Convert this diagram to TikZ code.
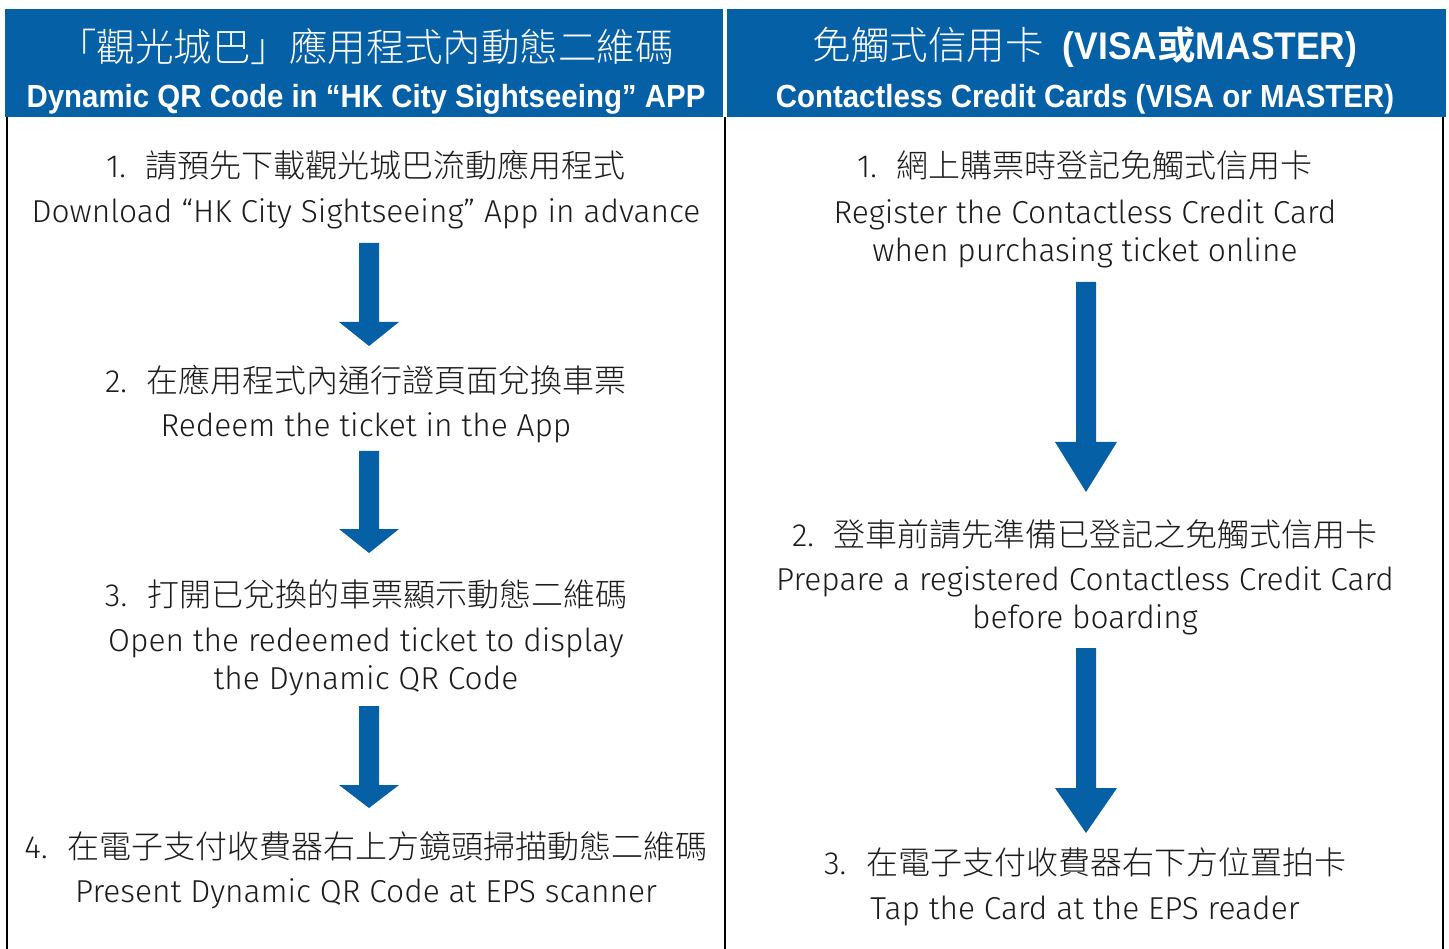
\documentclass[tikz,border=0pt]{standalone}
\usepackage{fontspec}
\setmainfont{Fira Sans Light}
\IfFontExistsTF{Noto Sans CJK TC Light}
  {\newfontfamily\cjk{Noto Sans CJK TC Light}[BoldFont={Noto Sans CJK TC Bold}]}
  {\IfFontExistsTF{Noto Sans CJK TC DemiLight}
     {\newfontfamily\cjk{Noto Sans CJK TC DemiLight}[BoldFont={Noto Sans CJK TC Bold}]}
     {\newfontfamily\cjk{Noto Sans CJK TC}}}
\newfontfamily\hdr[FakeStretch=0.92]{Liberation Sans}
\definecolor{hkblue}{RGB}{5,96,166}
\definecolor{txt}{RGB}{28,28,28}
\tikzset{
  hdrbox/.style={fill=hkblue, draw=none},
  hdrcn/.style={font=\cjk\fontsize{38.5}{44}\selectfont, text=white, inner sep=0pt},
  hdren/.style={font=\hdr\bfseries\fontsize{32}{36}\selectfont, text=white, inner sep=0pt},
  cn/.style={font=\fontsize{32}{38}\selectfont, text=txt, inner sep=0pt},
  en/.style={font=\fontsize{31.7}{38.5}\selectfont, text=txt, inner sep=0pt, align=center},
  frame/.style={line width=2pt, draw=black},
  blockarrow/.style={fill=hkblue, draw=none}
}
% #1 name, #2 x centre, #3 shaft top, #4 head top, #5 tip, #6 shaft half width, #7 head half width
\newcommand{\myarrow}[7]{%
  \coordinate (#1) at (#2,#3);
  \fill[blockarrow] ([xshift=-#6]#1) -- ([xshift=#6]#1) -- ([xshift=#6]#2,#4) -- ([xshift=#7]#2,#4)
     -- (#2,#5) -- ([xshift=-#7]#2,#4) -- ([xshift=-#6]#2,#4) -- cycle;}
\newcommand{\cjkline}[2]{#1\hspace{0.62em}{\cjk #2}}
\begin{document}
\begin{tikzpicture}[x=1pt,y=-1pt]
\useasboundingbox (0,0) rectangle (1449,949);
\fill[white] (0,0) rectangle (1449,949);
% headers
\fill[hdrbox] (5,9) rectangle (723,117);
\fill[hdrbox] (727,9) rectangle (1446,117);
\node[hdrcn] (hl1) at (366,47) {「觀光城巴」應用程式內動態二維碼};
\node[hdren] (hl2) at (366,99) {Dynamic QR Code in “HK City Sightseeing” APP};
\node[hdrcn] (hr1) at (1085,47) {免觸式信用卡\hspace{0.5em}{\hdr\bfseries\fontsize{38.5}{44}\selectfont (VISA{\cjk\bfseries 或}MASTER)}};
\node[hdren] (hr2) at (1085,99) {Contactless Credit Cards (VISA or MASTER)};
% frame lines
\draw[frame] (7,117) -- (7,949);
\draw[frame] (725,117) -- (725,949);
\draw[frame] (1443,117) -- (1443,949);
% left column
\node[cn] (l1c) at (366,165) {\cjkline{1.}{請預先下載觀光城巴流動應用程式}};
\node[en] (l1e) at (366,214) {Download “HK City Sightseeing” App in advance};
\myarrow{la1}{369}{243}{322}{346}{10pt}{30pt}
\node[cn] (l2c) at (366,380) {\cjkline{2.}{在應用程式內通行證頁面兌換車票}};
\node[en] (l2e) at (366,428) {Redeem the ticket in the App};
\myarrow{la2}{369}{451}{529}{553}{10pt}{30pt}
\node[cn] (l3c) at (366,594) {\cjkline{3.}{打開已兌換的車票顯示動態二維碼}};
\node[en] (l3e) at (366,662) {Open the redeemed ticket to display\\the Dynamic QR Code};
\myarrow{la3}{369}{706}{785}{808}{10pt}{30pt}
\node[cn] (l4c) at (366,846) {\cjkline{4.}{在電子支付收費器右上方鏡頭掃描動態二維碼}};
\node[en] (l4e) at (366,894) {Present Dynamic QR Code at EPS scanner};
% right column
\node[cn] (r1c) at (1085,165) {\cjkline{1.}{網上購票時登記免觸式信用卡}};
\node[en] (r1e) at (1085,234) {Register the Contactless Credit Card\\when purchasing ticket online};
\myarrow{ra1}{1086}{282}{442}{492}{10pt}{31pt}
\node[cn] (r2c) at (1085,534) {\cjkline{2.}{登車前請先準備已登記之免觸式信用卡}};
\node[en] (r2e) at (1085,601) {Prepare a registered Contactless Credit Card\\before boarding};
\myarrow{ra2}{1086}{648}{788}{833}{10pt}{31pt}
\node[cn] (r3c) at (1085,862) {\cjkline{3.}{在電子支付收費器右下方位置拍卡}};
\node[en] (r3e) at (1085,911) {Tap the Card at the EPS reader};
\end{tikzpicture}
\end{document}
